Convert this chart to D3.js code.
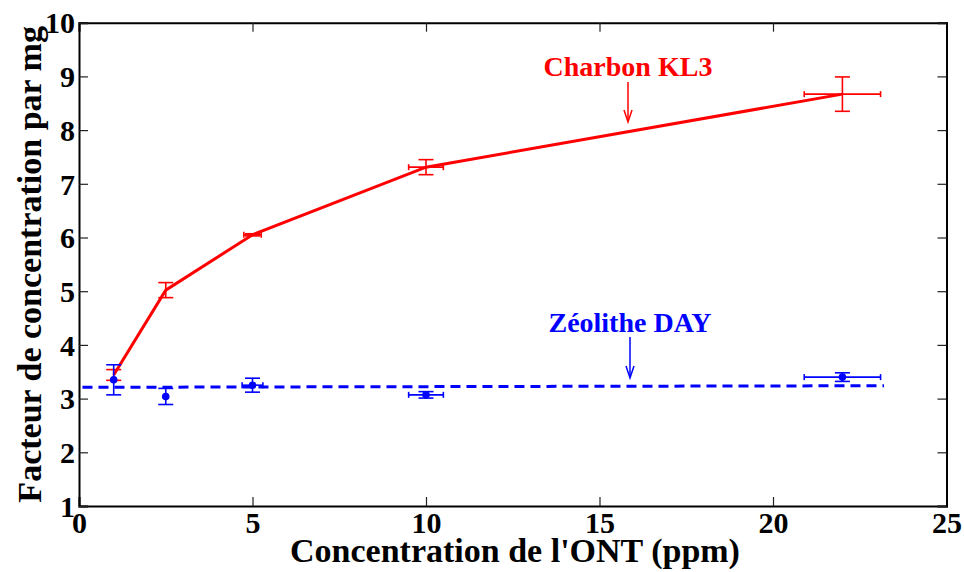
<!DOCTYPE html>
<html><head><meta charset="utf-8">
<script src="https://cdn.jsdelivr.net/npm/d3@7"></script>
<style>body{margin:0;background:#fff}svg{display:block}</style>
</head><body>
<script>
const xVals = [1, 2.5, 5, 10, 22];
const charbon = [3.44, 5.02, 6.05, 7.31, 8.67];
const charbonErrY = [0.1, 0.14, 0.02, 0.14, 0.32];
const charbonErrX = [0, 0, 0.25, 0.5, 1.1];
const zeolithe = [3.35, 3.04, 3.25, 3.07, 3.40];
const zeolitheErrY = [0.28, 0.15, 0.13, 0.06, 0.08];
const zeolitheErrX = [0, 0, 0.3, 0.5, 1.1];
const zeoFitX = [0.1, 23.2];
const zeoFitY = [3.21, 3.24];
const xTicks = [0, 5, 10, 15, 20, 25];
const yTicks = [1, 2, 3, 4, 5, 6, 7, 8, 9, 10];

const FONT = '"Liberation Serif", "Times New Roman", Times, serif';
const W = 964, H = 572;
const m = {l: 79, r: 964 - 946.5, t: 22.7, b: 572 - 506};
const svg = d3.select("body").append("svg").attr("width", W).attr("height", H);
const x = d3.scaleLinear().domain([0, 25]).range([m.l, W - m.r]);
const y = d3.scaleLinear().domain([1, 10]).range([H - m.b, m.t]);

const tickLen = 9;
const gx = svg.append("g").attr("transform", `translate(0,${y(1)})`)
  .call(d3.axisBottom(x).tickValues(xTicks).tickSize(-tickLen).tickPadding(6));
const gxt = svg.append("g").attr("transform", `translate(0,${y(10)})`)
  .call(d3.axisTop(x).tickValues(xTicks).tickSize(-tickLen).tickFormat(""));
const gy = svg.append("g").attr("transform", `translate(${x(0)},0)`)
  .call(d3.axisLeft(y).tickValues(yTicks).tickSize(-tickLen).tickPadding(4));
const gyr = svg.append("g").attr("transform", `translate(${x(25)},0)`)
  .call(d3.axisRight(y).tickValues(yTicks).tickSize(-tickLen).tickFormat(""));
[gx, gxt, gy, gyr].forEach(g => {
  g.attr("font-family", null).attr("font-size", null);
  g.select(".domain").attr("stroke", "#000").attr("stroke-width", 2);
  g.selectAll(".tick line").attr("stroke", "#222").attr("stroke-width", 1.2);
  g.selectAll("text").style("font-size", "30px").style("font-family", FONT)
    .style("font-weight", "bold").attr("fill", "#000");
});
gx.selectAll(".tick text").attr("dy", "0.71em");
gy.selectAll(".tick text").attr("dy", "0.34em");

function txt(sel) { return sel.style("font-family", FONT).style("font-weight", "bold"); }

txt(svg.append("text").attr("x", 515).attr("y", 562)
  .attr("text-anchor", "middle").style("font-size", "34px").text("Concentration de l'ONT (ppm)"));
txt(svg.append("text").attr("transform", `translate(41,${(y(1)+y(10))/2}) rotate(-90)`)
  .attr("text-anchor", "middle").style("font-size", "34px").text("Facteur de concentration par mg"));

const plot = svg.append("g");

function errorBars(ys, ex, ey, color, capPx) {
  const g = plot.append("g").attr("stroke", color).attr("stroke-width", 1.6).attr("fill", "none");
  xVals.forEach((xv, i) => {
    const cx = x(xv), cy = y(ys[i]);
    if (ey[i] > 0) {
      const y0 = y(ys[i] - ey[i]), y1 = y(ys[i] + ey[i]);
      g.append("line").attr("x1", cx).attr("x2", cx).attr("y1", y0).attr("y2", y1);
      g.append("line").attr("x1", cx - capPx).attr("x2", cx + capPx).attr("y1", y0).attr("y2", y0);
      g.append("line").attr("x1", cx - capPx).attr("x2", cx + capPx).attr("y1", y1).attr("y2", y1);
    }
    if (ex[i] > 0) {
      const x0 = x(xv - ex[i]), x1 = x(xv + ex[i]);
      g.append("line").attr("x1", x0).attr("x2", x1).attr("y1", cy).attr("y2", cy);
      g.append("line").attr("x1", x0).attr("x2", x0).attr("y1", cy - 3).attr("y2", cy + 3);
      g.append("line").attr("x1", x1).attr("x2", x1).attr("y1", cy - 3).attr("y2", cy + 3);
    }
  });
}

// red series
errorBars(charbon, charbonErrX, charbonErrY, "#ff0000", 7.5);
plot.append("path").datum(xVals.map((v, i) => [v, charbon[i]]))
  .attr("d", d3.line().x(d => x(d[0])).y(d => y(d[1])))
  .attr("stroke", "#ff0000").attr("stroke-width", 3).attr("fill", "none");

// blue series
plot.append("path").datum(zeoFitX.map((v, i) => [v, zeoFitY[i]]))
  .attr("d", d3.line().x(d => x(d[0])).y(d => y(d[1])))
  .attr("stroke", "#0000ff").attr("stroke-width", 3).attr("stroke-dasharray", "10,6").attr("fill", "none");
errorBars(zeolithe, zeolitheErrX, zeolitheErrY, "#0000ff", 7.5);
plot.selectAll(".zpt").data(xVals).join("circle").attr("class", "zpt")
  .attr("cx", d => x(d)).attr("cy", (d, i) => y(zeolithe[i])).attr("r", 3.8).attr("fill", "#0000ff");

function annot(label, color, tx, ty, ay0, ay1) {
  txt(svg.append("text").attr("x", tx).attr("y", ty).attr("text-anchor", "middle")
    .style("font-size", "28px").attr("fill", color).text(label));
  svg.append("line").attr("x1", tx).attr("x2", tx).attr("y1", ay0).attr("y2", ay1 - 2)
    .attr("stroke", color).attr("stroke-width", 1.5);
  svg.append("path").attr("d", `M${tx-4},${ay1-12} L${tx},${ay1} L${tx+4},${ay1-12}`)
    .attr("stroke", color).attr("stroke-width", 1.5).attr("fill", "none");
}
annot("Charbon KL3", "#ff0000", 628, 76, 82, 122);
annot("Zéolithe DAY", "#0000ff", 630, 332, 337, 378);
</script>
</body></html>
